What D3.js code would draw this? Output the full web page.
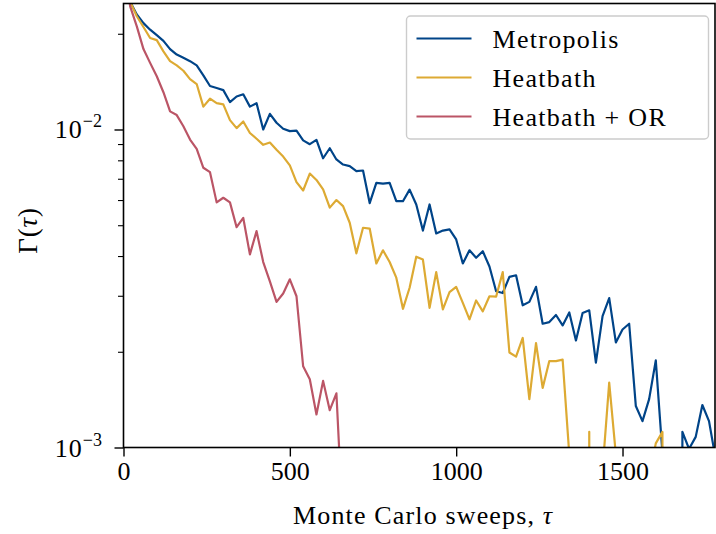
<!DOCTYPE html>
<html>
<head>
<meta charset="utf-8">
<script src="https://cdn.jsdelivr.net/npm/d3@7"></script>
<style>
  body { margin: 0; background: #fff; }
  text { font-family: "Liberation Serif", "Times New Roman", serif; fill: #000; }
</style>
</head>
<body>
<div id="chart"></div>
<script>
// sweep index (tau) of every sample
const sweeps = [0, 20, 40, 60, 80, 100, 120, 140, 160, 180, 200, 220, 240, 260, 280, 300, 320, 340, 360, 380,
  400, 420, 440, 460, 480, 500, 520, 540, 560, 580, 600, 620, 640, 660, 680, 700, 720, 740, 760, 780,
  800, 820, 840, 860, 880, 900, 920, 940, 960, 980, 1000, 1020, 1040, 1060, 1080, 1100, 1120, 1140, 1160, 1180,
  1200, 1220, 1240, 1260, 1280, 1300, 1320, 1340, 1360, 1380, 1400, 1420, 1440, 1460, 1480, 1500, 1520, 1540, 1560, 1580,
  1600, 1620, 1640, 1660, 1680, 1700, 1720, 1740, 1760, 1780];

// Gamma(tau); 0 stands for a non-positive estimate (drawn off the bottom, like matplotlib's log clipping)
const metropolis = [0.035, 0.0252, 0.0230, 0.0216, 0.0206, 0.0198, 0.0190, 0.0179, 0.0172, 0.0168,
  0.0164, 0.0159, 0.0148, 0.0137, 0.0135, 0.0133, 0.0122, 0.0127, 0.0129, 0.0118,
  0.0121, 0.0100, 0.0112, 0.0105, 0.01005, 0.00988, 0.00992, 0.00924, 0.00899, 0.00928,
  0.00812, 0.00873, 0.00805, 0.00776, 0.00767, 0.00740, 0.00743, 0.00587, 0.00679, 0.00676,
  0.00679, 0.00595, 0.00595, 0.00647, 0.00581, 0.00481, 0.00581, 0.00471, 0.00481, 0.00485,
  0.00451, 0.00379, 0.00417, 0.00395, 0.00414, 0.00371, 0.00310, 0.00306, 0.00344, 0.00348,
  0.00280, 0.00287, 0.00320, 0.00245, 0.00248, 0.00261, 0.00242, 0.00266, 0.00217, 0.00265,
  0.00270, 0.00185, 0.00259, 0.00295, 0.00214, 0.00235, 0.00245, 0.00135, 0.00121, 0.00142,
  0.00188, 0.00096, 0, 0, 0.00112, 0.00099, 0.00108, 0.00136, 0.00121, 0.00092];

const heatbath = [0.035, 0.0252, 0.0227, 0.0210, 0.0194, 0.0191, 0.0176, 0.0164, 0.0159, 0.0153,
  0.0144, 0.0139, 0.0118, 0.0125, 0.0121, 0.0120, 0.0107, 0.0101, 0.0106, 0.00975,
  0.00935, 0.00895, 0.00910, 0.00863, 0.00822, 0.00771, 0.00683, 0.00643, 0.00727, 0.00694,
  0.00648, 0.00568, 0.00600, 0.00574, 0.00509, 0.00408, 0.00491, 0.00488, 0.00379, 0.00417,
  0.00383, 0.00342, 0.00273, 0.00318, 0.00398, 0.00390, 0.00275, 0.00356, 0.00272, 0.00308,
  0.00320, 0.00285, 0.00253, 0.00290, 0.00268, 0.00299, 0.00298, 0.00356, 0.00199, 0.00193,
  0.00221, 0.00142, 0.00213, 0.00154, 0.00187, 0.00187, 0.00189, 0.00095, 0, 0,
  0.00112, 0, 0.00085, 0.00160, 0.00095, 0, 0, 0, 0, 0.0008,
  0.00103, 0.00112, 0];

const heatbathOR = [0.035, 0.0244, 0.0211, 0.0179, 0.0162, 0.0147, 0.0131, 0.0114, 0.0111, 0.01024,
  0.00930, 0.00869, 0.00758, 0.00734, 0.00590, 0.00610, 0.00590, 0.00493, 0.00527, 0.00405,
  0.00479, 0.00383, 0.00333, 0.00287, 0.00305, 0.00338, 0.00299, 0.00180, 0.00164, 0.00127,
  0.00162, 0.00131, 0.00148, 0.00056];

const seriesNames = ["Metropolis", "Heatbath", "Heatbath + OR"];
const seriesColors = ["#004488", "#DDAA33", "#BB5566"];
const xTicks = [0, 500, 1000, 1500];
const yMajorTicks = [{ v: 1e-3, exp: "\u22123" }, { v: 1e-2, exp: "\u22122" }];
const yMinorTicks = [2e-3, 3e-3, 4e-3, 5e-3, 6e-3, 7e-3, 8e-3, 9e-3, 2e-2];

const width = 716, height = 534;
const box = { left: 123.5, right: 715, top: 3.5, bottom: 447.5 };

const svg = d3.select("#chart")
  .append("svg")
  .attr("width", width)
  .attr("height", height);

const x = d3.scaleLinear().domain([0, 1778]).range([box.left, box.right]);
const y = d3.scaleLog().domain([1e-3, 0.0249]).range([box.bottom, box.top]);

svg.append("defs").append("clipPath")
  .attr("id", "plot-clip")
  .append("rect")
  .attr("x", box.left).attr("y", box.top)
  .attr("width", box.right - box.left).attr("height", box.bottom - box.top);

// lines
const line = d3.line()
  .x((d, i) => x(sweeps[i]))
  .y(d => y(Math.max(d, 1e-30)));

const allSeries = [metropolis, heatbath, heatbathOR];
const plot = svg.append("g").attr("clip-path", "url(#plot-clip)");
allSeries.forEach((s, k) => {
  plot.append("path")
    .datum(s)
    .attr("fill", "none")
    .attr("stroke", seriesColors[k])
    .attr("stroke-width", 2.2)
    .attr("stroke-linejoin", "round")
    .attr("d", line);
});

// x axis
const xAxis = svg.append("g")
  .attr("transform", `translate(0,${box.bottom})`)
  .call(d3.axisBottom(x).tickValues(xTicks).tickSize(9).tickPadding(5).tickFormat(d3.format("d")));
xAxis.select(".domain").remove();
xAxis.selectAll(".tick line").attr("stroke", "#000").attr("stroke-width", 1.4);
xAxis.selectAll(".tick text").attr("font-size", 26).attr("font-family", "Liberation Serif");

// y axis, major with 10^n labels
const yAxis = svg.append("g")
  .attr("transform", `translate(${box.left},0)`)
  .call(d3.axisLeft(y).tickValues(yMajorTicks.map(t => t.v)).tickSize(9).tickFormat(""));
yAxis.select(".domain").remove();
yAxis.selectAll(".tick line").attr("stroke", "#000").attr("stroke-width", 1.4);

yMajorTicks.forEach(t => {
  const lbl = svg.append("text")
    .attr("x", 102)
    .attr("y", y(t.v) + 9)
    .attr("text-anchor", "end")
    .attr("font-size", 26);
  lbl.append("tspan").attr("letter-spacing", 1).text("10");
  lbl.append("tspan").attr("font-size", 18).attr("dy", -11).text(t.exp);
});

const yMinor = svg.append("g")
  .attr("transform", `translate(${box.left},0)`)
  .call(d3.axisLeft(y).tickValues(yMinorTicks).tickSize(5.5).tickFormat(""));
yMinor.select(".domain").remove();
yMinor.selectAll(".tick line").attr("stroke", "#000").attr("stroke-width", 1.1);

// frame
svg.append("rect")
  .attr("x", box.left).attr("y", box.top)
  .attr("width", box.right - box.left).attr("height", box.bottom - box.top)
  .attr("fill", "none")
  .attr("stroke", "#000")
  .attr("stroke-width", 1.6);

// axis labels
const xl = svg.append("text")
  .attr("x", 293)
  .attr("y", 524)
  .attr("font-size", 26)
  .attr("letter-spacing", 1.15);
xl.append("tspan").text("Monte Carlo sweeps, ");
xl.append("tspan").attr("font-style", "italic").text("\u03c4");

const yl = svg.append("text")
  .attr("transform", `translate(37,${(box.top + box.bottom) / 2 + 5}) rotate(-90)`)
  .attr("text-anchor", "middle")
  .attr("font-size", 27)
  .attr("letter-spacing", 0.8);
yl.append("tspan").text("\u0393(");
yl.append("tspan").attr("font-style", "italic").text("\u03c4");
yl.append("tspan").text(")");

// legend
const legend = svg.append("g").attr("transform", "translate(406.5,16)");
legend.append("rect")
  .attr("width", 302).attr("height", 123)
  .attr("rx", 4)
  .attr("fill", "#fff").attr("fill-opacity", 0.8)
  .attr("stroke", "#cccccc").attr("stroke-width", 1.4);

seriesNames.forEach((name, k) => {
  const rowY = 22.5 + k * 39;
  legend.append("line")
    .attr("x1", 10).attr("x2", 65)
    .attr("y1", rowY).attr("y2", rowY)
    .attr("stroke", seriesColors[k])
    .attr("stroke-width", 2.2);
  legend.append("text")
    .attr("x", 86)
    .attr("y", rowY + 9)
    .attr("font-size", 26)
    .attr("letter-spacing", 1.3)
    .text(name);
});
</script>
</body>
</html>
